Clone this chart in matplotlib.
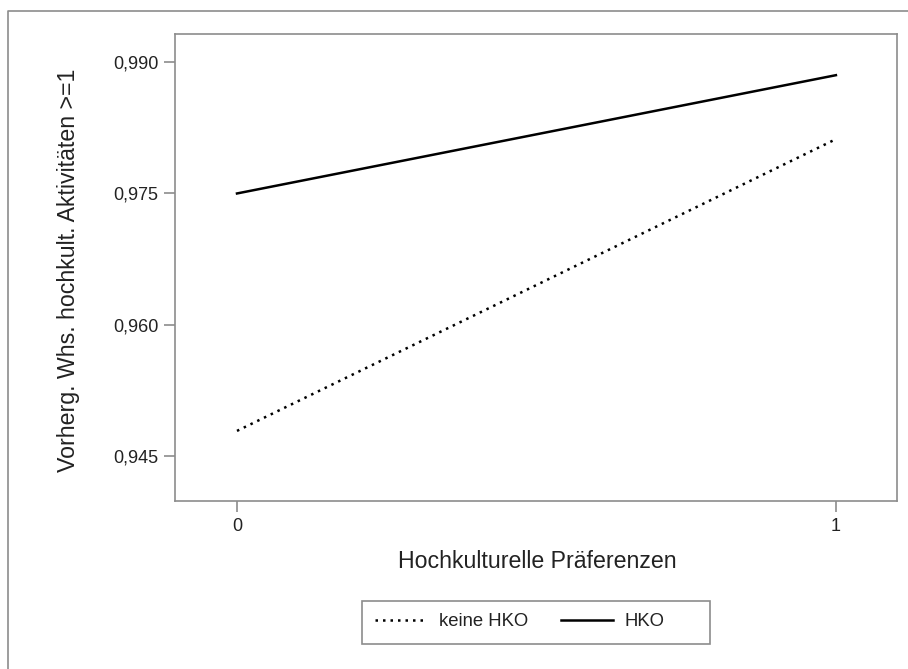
import matplotlib
matplotlib.use("Agg")
import matplotlib.pyplot as plt
from matplotlib.lines import Line2D
from matplotlib.patches import Rectangle
from matplotlib.ticker import FuncFormatter

# predicted probabilities
x_vals = [0, 1]
keine_hko = [0.9479, 0.9812]
hko = [0.9750, 0.9885]
series_labels = ["keine HKO", "HKO"]
y_ticks = [0.945, 0.960, 0.975, 0.990]
x_ticks = [0, 1]

GRAY = "#8c8c8c"
plt.rcParams["font.family"] = ["Liberation Sans", "DejaVu Sans"]

W, H = 908, 669
fig = plt.figure(figsize=(W / 100, H / 100), dpi=100)
ax = fig.add_axes([175 / W, 1 - 501 / H, (897 - 175) / W, (501 - 34) / H])

ax.plot(x_vals, keine_hko, color="black", lw=1.8, ls=(0, (1, 2)), label=series_labels[0])
ax.plot(x_vals, hko, color="black", lw=1.8, ls="-", label=series_labels[1])

ax.set_xlim(-0.1035, 1.102)
ax.set_ylim(0.9399, 0.9932)
ax.set_xticks(x_ticks)
ax.set_yticks(y_ticks)
ax.yaxis.set_major_formatter(FuncFormatter(lambda v, p: f"{v:.3f}".replace(".", ",")))
ax.tick_params(colors=GRAY, labelcolor="#222222", labelsize=13, length=8, width=1.2, pad=4)
for s in ax.spines.values():
    s.set_color(GRAY)
    s.set_linewidth(1.2)

fig.text(69 / W, 1 - 270 / H, "Vorherg. Whs. hochkult. Aktivitäten >=1",
         rotation=90, ha="center", va="center", fontsize=16.7, color="#222222")
fig.text(537 / W, 1 - 562 / H, "Hochkulturelle Präferenzen",
         ha="center", va="center", fontsize=16.7, color="#222222")

# legend entries (no frame) plus a separate, wider box like the original
leg = fig.legend(handles=ax.get_lines(), loc="center", bbox_to_anchor=(520 / W, 1 - 622 / H),
                 ncol=2, fontsize=13.3, frameon=False, handlelength=2.8,
                 columnspacing=1.8, handletextpad=0.65, borderpad=0, borderaxespad=0)
for t in leg.get_texts():
    t.set_color("#222222")
fig.add_artist(Rectangle((362 / W, 1 - 644 / H), (710 - 362) / W, (644 - 601) / H,
                         transform=fig.transFigure, fill=False, edgecolor=GRAY, lw=1.2))

# outer frame (left and top edges visible)
fig.add_artist(Line2D([8 / W, 8 / W, 1.0], [0.0, 1 - 11 / H, 1 - 11 / H],
                      transform=fig.transFigure, color=GRAY, lw=1.2))

fig.savefig("out.png", dpi=100)
